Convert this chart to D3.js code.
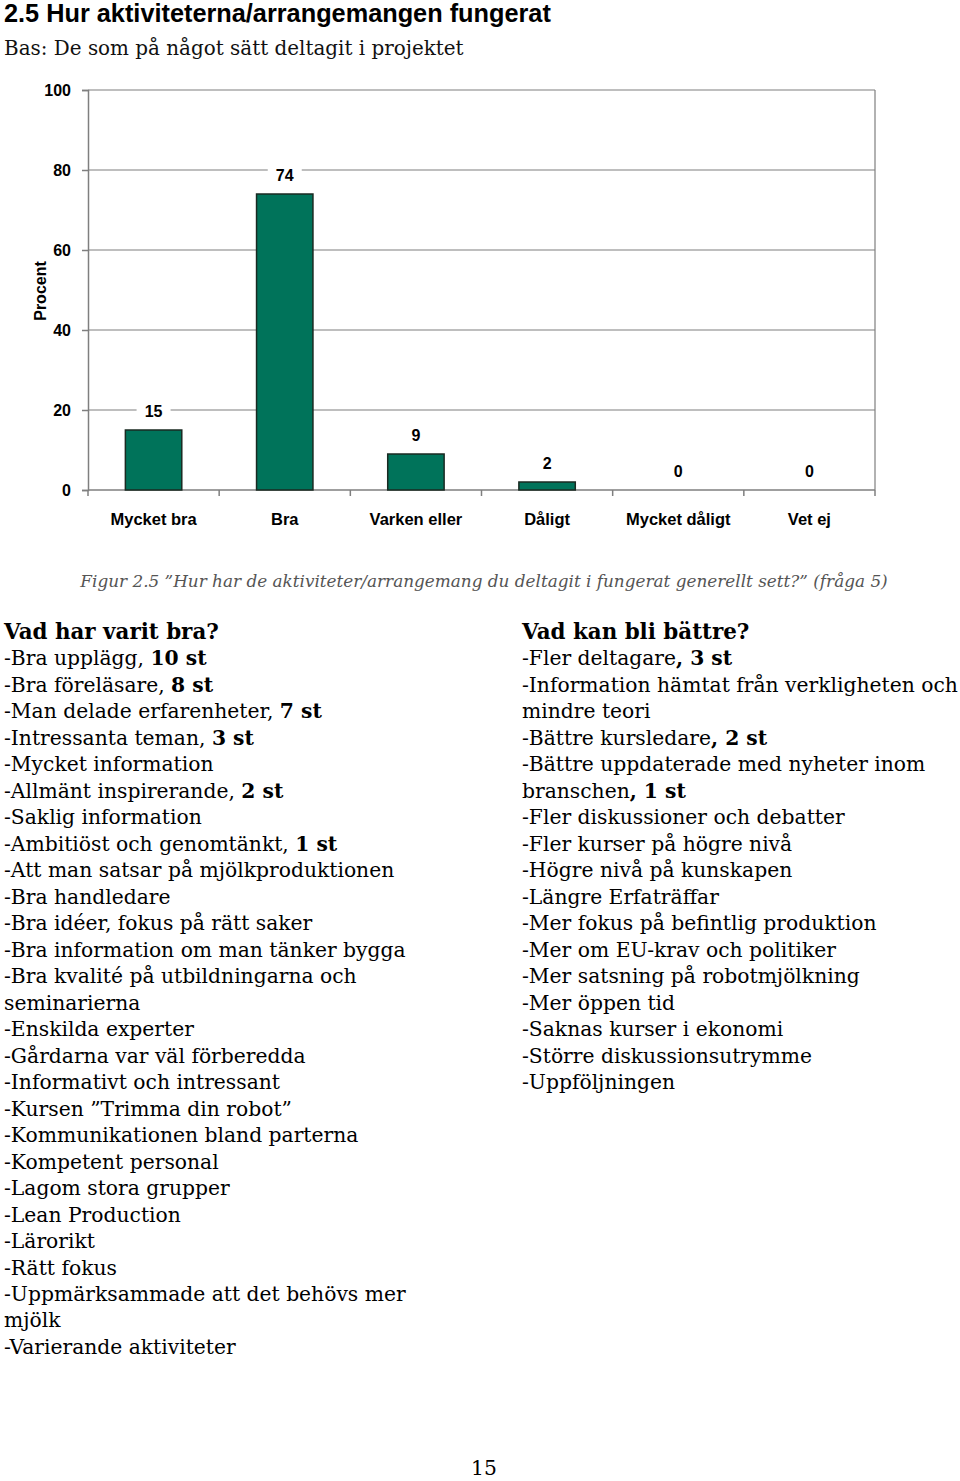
<!DOCTYPE html>
<html><head><meta charset="utf-8">
<script src="https://cdn.jsdelivr.net/npm/d3@7"></script>
<style>body{margin:0;background:#fff}svg{display:block}</style>
</head><body>
<script>
const categories = ["Mycket bra","Bra","Varken eller","Dåligt","Mycket dåligt","Vet ej"];
const values = [15,74,9,2,0,0];
const yTicks = [0,20,40,60,80,100];
const title = "2.5 Hur aktiviteterna/arrangemangen fungerat";
const subtitle = "Bas: De som på något sätt deltagit i projektet";
const yLabel = "Procent";
const caption = "Figur 2.5 ”Hur har de aktiviteter/arrangemang du deltagit i fungerat generellt sett?” (fråga 5)";
const leftHeading = "Vad har varit bra?";
const leftLines = [
 ["-Bra upplägg, ","10 st"],["-Bra föreläsare, ","8 st"],["-Man delade erfarenheter, ","7 st"],
 ["-Intressanta teman, ","3 st"],["-Mycket information"],["-Allmänt inspirerande, ","2 st"],
 ["-Saklig information"],["-Ambitiöst och genomtänkt, ","1 st"],["-Att man satsar på mjölkproduktionen"],
 ["-Bra handledare"],["-Bra idéer, fokus på rätt saker"],["-Bra information om man tänker bygga"],
 ["-Bra kvalité på utbildningarna och"],["seminarierna"],["-Enskilda experter"],
 ["-Gårdarna var väl förberedda"],["-Informativt och intressant"],["-Kursen ”Trimma din robot”"],
 ["-Kommunikationen bland parterna"],["-Kompetent personal"],["-Lagom stora grupper"],
 ["-Lean Production"],["-Lärorikt"],["-Rätt fokus"],["-Uppmärksammade att det behövs mer"],
 ["mjölk"],["-Varierande aktiviteter"]
];
const rightHeading = "Vad kan bli bättre?";
const rightLines = [
 ["-Fler deltagare",", 3 st"],["-Information hämtat från verkligheten och"],["mindre teori"],
 ["-Bättre kursledare",", 2 st"],["-Bättre uppdaterade med nyheter inom"],["branschen",", 1 st"],
 ["-Fler diskussioner och debatter"],["-Fler kurser på högre nivå"],["-Högre nivå på kunskapen"],
 ["-Längre Erfaträffar"],["-Mer fokus på befintlig produktion"],["-Mer om EU-krav och politiker"],
 ["-Mer satsning på robotmjölkning"],["-Mer öppen tid"],["-Saknas kurser i ekonomi"],
 ["-Större diskussionsutrymme"],["-Uppföljningen"]
];
const pageNumber = "15";

const W=960,H=1481;
const svg=d3.select("body").append("svg").attr("width",W).attr("height",H);
const sans="'Liberation Sans', Arial, sans-serif";
const serif="'DejaVu Serif', Georgia, serif";

function fitSize(str, target, style, weight){
  const t=svg.append("text").attr("font-family",serif).attr("font-size",20)
    .attr("font-style",style||"normal").attr("font-weight",weight||"normal").text(str);
  const w=t.node().getComputedTextLength(); t.remove();
  return 20*target/w;
}
const bodySize=fitSize("-Information hämtat från verkligheten och",436);
const headSize=fitSize(leftHeading,215,"normal","bold");
const capSize=fitSize(caption,808,"italic");
const subSize=fitSize(subtitle,460);

svg.append("text").attr("x",4).attr("y",22).attr("font-family",sans).attr("font-weight","bold")
  .attr("font-size",25.3).attr("fill","#000").text(title);
svg.append("text").attr("x",4).attr("y",55).attr("font-family",serif).attr("font-size",subSize)
  .attr("fill","#111").text(subtitle);

// chart
const x=d3.scaleBand().domain(categories).range([88,875]).paddingInner(0.57).paddingOuter(0.285);
const y=d3.scaleLinear().domain([0,100]).range([490,90]);
const g=svg.append("g");
g.selectAll("line.grid").data(yTicks.filter(d=>d>0)).join("line")
  .attr("x1",88).attr("x2",875).attr("y1",d=>y(d)).attr("y2",d=>y(d))
  .attr("stroke","#7f7f7f").attr("stroke-width",1.2);
g.append("line").attr("x1",875).attr("x2",875).attr("y1",y(100)).attr("y2",y(0)).attr("stroke","#7f7f7f").attr("stroke-width",1.2);
const yAxis=d3.axisLeft(y).tickValues(yTicks).tickSize(6).tickPadding(11);
const ya=g.append("g").attr("transform","translate(88,0)").call(yAxis);
ya.select(".domain").attr("stroke","#7f7f7f").attr("stroke-width",1.5);
ya.selectAll(".tick line").attr("stroke","#7f7f7f").attr("stroke-width",1.5);
ya.selectAll(".tick text").attr("font-family",sans).attr("font-weight","bold").attr("font-size",16).attr("fill","#000");
const xa=g.append("g").attr("transform","translate(0,490)");
xa.append("line").attr("x1",88).attr("x2",875).attr("stroke","#7f7f7f").attr("stroke-width",1.5);
const bounds=categories.map(c=>x(c)-x.step()*x.paddingInner()/2).concat([875]);
xa.selectAll("line.t").data(bounds).join("line").attr("class","t")
  .attr("x1",d=>d).attr("x2",d=>d).attr("y1",0).attr("y2",6).attr("stroke","#7f7f7f").attr("stroke-width",1.5);
xa.selectAll("text").data(categories).join("text")
  .attr("x",d=>x(d)+x.bandwidth()/2).attr("y",35).attr("text-anchor","middle")
  .attr("font-family",sans).attr("font-weight","bold").attr("font-size",16.5).attr("fill","#000").text(d=>d);
g.selectAll("rect.bar").data(values.map((v,i)=>({c:categories[i],v}))).join("rect")
  .filter(d=>d.v>0)
  .attr("x",d=>x(d.c)).attr("width",x.bandwidth())
  .attr("y",d=>y(d.v)).attr("height",d=>y(0)-y(d.v))
  .attr("fill","#00735A").attr("stroke","#1a2a22").attr("stroke-width",1.5);
const lab=g.selectAll("g.lab").data(values.map((v,i)=>({c:categories[i],v}))).join("g")
  .attr("transform",d=>`translate(${x(d.c)+x.bandwidth()/2},${y(d.v)-19})`);
lab.append("rect").attr("x",-17).attr("y",-10).attr("width",34).attr("height",20).attr("fill","#fff");
lab.append("text").attr("text-anchor","middle").attr("dy","0.36em").attr("font-family",sans)
  .attr("font-weight","bold").attr("font-size",16).attr("fill","#000").text(d=>d.v);
svg.append("text").attr("transform","translate(46,291) rotate(-90)").attr("text-anchor","middle")
  .attr("font-family",sans).attr("font-weight","bold").attr("font-size",16).attr("fill","#000").text(yLabel);

svg.append("text").attr("x",484).attr("y",587).attr("text-anchor","middle").attr("font-family",serif)
  .attr("font-style","italic").attr("font-size",capSize).attr("fill","#555").text(caption);

function column(x0, heading, lines){
  const lh=26.48, y0=639;
  svg.append("text").attr("x",x0).attr("y",y0).attr("font-family",serif).attr("font-weight","bold")
    .attr("font-size",headSize).attr("fill","#000").text(heading);
  lines.forEach((parts,i)=>{
    const t=svg.append("text").attr("x",x0).attr("y",y0+lh*(i+1)).attr("font-family",serif)
      .attr("font-size",bodySize).attr("fill","#000");
    parts.forEach((p,j)=>t.append("tspan").attr("font-weight",j===1?"bold":"normal").text(p));
  });
}
column(4,leftHeading,leftLines);
column(522,rightHeading,rightLines);

svg.append("text").attr("x",484).attr("y",1475).attr("text-anchor","middle").attr("font-family",serif)
  .attr("font-size",bodySize).attr("fill","#000").text(pageNumber);
</script>
</body></html>
